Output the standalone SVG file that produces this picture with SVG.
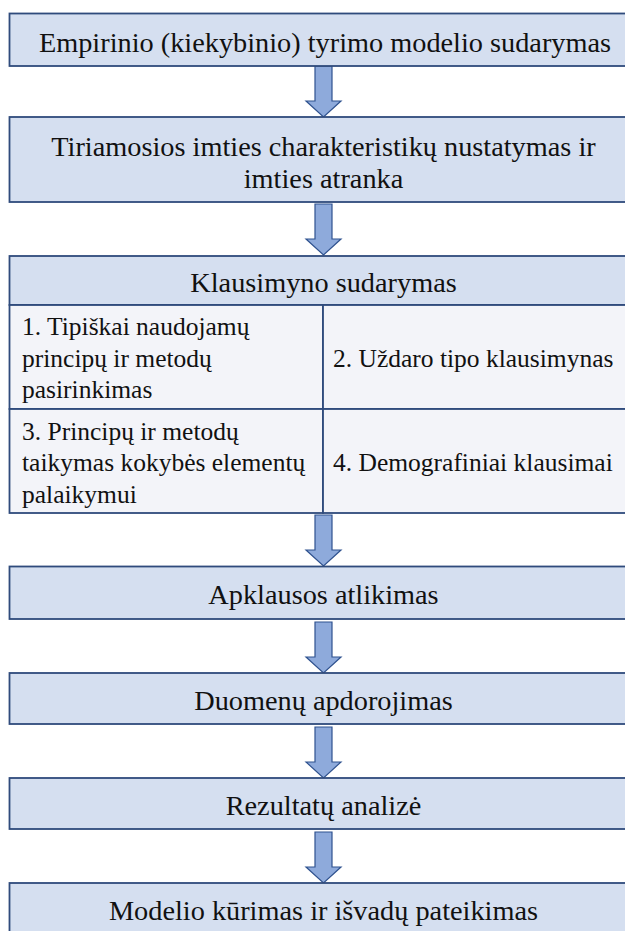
<svg xmlns="http://www.w3.org/2000/svg" width="625" height="931" viewBox="0 0 625 931">
  <defs>
    <style>
      .box { fill: #D5DFF0; stroke: #2F4B7C; stroke-width: 1.8; }
      .cell { fill: #F3F4F9; stroke: #2F4B7C; stroke-width: 1.8; }
      .title { font-family: "Liberation Serif", "Times New Roman", serif; font-size: 28.3px; text-anchor: middle; fill: #111111; }
      .item { font-family: "Liberation Serif", "Times New Roman", serif; font-size: 25.5px; fill: #111111; }
    </style>
    <!-- down block arrow, tip at (0,0) on the top edge of the box it points into -->
    <path id="down-arrow" d="M -8.5 -51 H 8.5 V -16 H 17.5 L 0 0 L -17.5 -16 H -8.5 Z" fill="#8EAADB" stroke="#2F528F" stroke-width="1.2"/>
  </defs>

  <rect width="625" height="931" fill="#FFFFFF"/>

  <!-- block arrows between the steps -->
  <g id="connectors">
    <use href="#down-arrow" x="323.5" y="117"/>
    <use href="#down-arrow" x="323.5" y="255"/>
    <use href="#down-arrow" x="323.5" y="566"/>
    <use href="#down-arrow" x="323.5" y="673"/>
    <use href="#down-arrow" x="323.5" y="778"/>
    <use href="#down-arrow" x="323.5" y="883"/>
  </g>

  <g id="model">
    <rect class="box" x="9.5" y="13.5" width="630" height="52.5"/>
    <text class="title" x="325" y="51.5">Empirinio (kiekybinio) tyrimo modelio sudarymas</text>
  </g>

  <g id="sample">
    <rect class="box" x="9.5" y="117" width="630" height="85"/>
    <text class="title" x="323.5" y="155.5">Tiriamosios imties charakteristikų nustatymas ir</text>
    <text class="title" x="323.5" y="188">imties atranka</text>
  </g>

  <g id="questionnaire">
    <rect class="box" x="9.5" y="256" width="630" height="49"/>
    <rect class="cell" x="9.5" y="305" width="313.5" height="104"/>
    <rect class="cell" x="323" y="305" width="316.5" height="104"/>
    <rect class="cell" x="9.5" y="409" width="313.5" height="104"/>
    <rect class="cell" x="323" y="409" width="316.5" height="104"/>
    <text class="title" x="323.5" y="292">Klausimyno sudarymas</text>
    <text class="item" x="22" y="335">1. Tipiškai naudojamų</text>
    <text class="item" x="22" y="366.5">principų ir metodų</text>
    <text class="item" x="22" y="398">pasirinkimas</text>
    <text class="item" x="333" y="367">2. Uždaro tipo klausimynas</text>
    <text class="item" x="22" y="439.5">3. Principų ir metodų</text>
    <text class="item" x="22" y="471">taikymas kokybės elementų</text>
    <text class="item" x="22" y="502.5">palaikymui</text>
    <text class="item" x="333" y="471">4. Demografiniai klausimai</text>
  </g>

  <g id="survey">
    <rect class="box" x="9.5" y="566.5" width="630" height="52.5"/>
    <text class="title" x="323.5" y="604">Apklausos atlikimas</text>
  </g>

  <g id="processing">
    <rect class="box" x="9.5" y="673" width="630" height="51"/>
    <text class="title" x="323.5" y="710">Duomenų apdorojimas</text>
  </g>

  <g id="analysis">
    <rect class="box" x="9.5" y="778" width="630" height="51"/>
    <text class="title" x="323.5" y="815">Rezultatų analizė</text>
  </g>

  <g id="conclusions">
    <rect class="box" x="9.5" y="883" width="630" height="60"/>
    <text class="title" x="323.5" y="920">Modelio kūrimas ir išvadų pateikimas</text>
  </g>
</svg>
